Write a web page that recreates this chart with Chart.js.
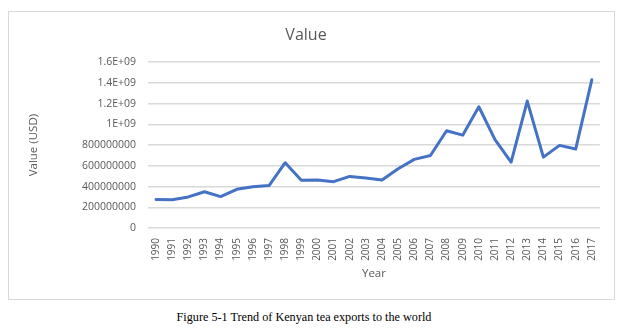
<!DOCTYPE html>
<html>
<head>
<meta charset="utf-8">
<script src="https://cdn.jsdelivr.net/npm/chart.js@4/dist/chart.umd.min.js"></script>
<style>
  html, body { margin: 0; padding: 0; background: #fff; }
  body { width: 623px; height: 332px; position: relative; overflow: hidden; }
  #box { position: absolute; left: 8px; top: 11px; width: 605px; height: 287px; border: 1px solid #d9d9d9; box-sizing: content-box; }
  #wrap { position: absolute; left: 0; top: 0; width: 605px; height: 287px; }
  #caption { position: absolute; left: 0; width: 608px; top: 310px; text-align: center; font-family: "Liberation Serif", "Times New Roman", serif; font-size: 12.2px; color: #000; }
</style>
</head>
<body>
<div id="box"><div id="wrap"><canvas id="c" width="605" height="287"></canvas></div></div>
<div id="caption">Figure 5-1 Trend of Kenyan tea exports to the world</div>
<script>
const years = ['1990','1991','1992','1993','1994','1995','1996','1997','1998','1999','2000','2001','2002','2003','2004','2005','2006','2007','2008','2009','2010','2011','2012','2013','2014','2015','2016','2017'];
const values = [2.75e8, 2.73e8, 3.0e8, 3.5e8, 3.03e8, 3.73e8, 3.99e8, 4.09e8, 6.3e8, 4.6e8, 4.63e8, 4.47e8, 4.98e8, 4.82e8, 4.63e8, 5.72e8, 6.62e8, 7.0e8, 9.39e8, 8.96e8, 1.17e9, 8.52e8, 6.36e8, 1.225e9, 6.84e8, 7.97e8, 7.62e8, 1.43e9];
const yTickValues = [0, 2e8, 4e8, 6e8, 8e8, 1e9, 1.2e9, 1.4e9, 1.6e9];
const yTickLabels = ['0','200000000','400000000','600000000','800000000','1E+09','1.2E+09','1.4E+09','1.6E+09'];

const FONT = '"Open Sans", "Liberation Sans", sans-serif';
const GREY = '#595959';

new Chart(document.getElementById('c'), {
  type: 'line',
  data: {
    labels: years,
    datasets: [{
      label: 'Value',
      data: values,
      borderColor: '#4472C4',
      backgroundColor: '#4472C4',
      borderWidth: 3,
      pointRadius: 0,
      tension: 0,
      borderJoinStyle: 'round',
      borderCapStyle: 'round'
    }]
  },
  options: {
    responsive: false,
    animation: false,
    devicePixelRatio: 1,
    layout: { padding: { left: 0, right: 11, top: 0, bottom: 0 } },
    plugins: {
      legend: { display: false },
      tooltip: { enabled: false },
      title: {
        display: true,
        text: 'Value',
        color: GREY,
        font: { family: FONT, size: 16, weight: 'normal', lineHeight: 1.2 },
        padding: { top: 14, bottom: 17 }
      }
    },
    scales: {
      x: {
        offset: true,
        grid: { display: false, drawTicks: false },
        border: { display: false },
        ticks: {
          color: GREY,
          font: { family: FONT, size: 10 },
          minRotation: 90,
          maxRotation: 90,
          autoSkip: false,
          padding: 10
        },
        title: {
          display: true,
          text: 'Year',
          color: GREY,
          font: { family: FONT, size: 11.5 },
          padding: { top: 0, bottom: 18 }
        },
        afterFit: (s) => { s.height = 287 - 216; }
      },
      y: {
        min: 0,
        max: 1.6e9,
        afterBuildTicks: (s) => { s.ticks = yTickValues.map(v => ({ value: v })); },
        grid: { color: '#d9d9d9', lineWidth: 1.5, drawTicks: false },
        border: { display: false },
        ticks: {
          color: GREY,
          font: { family: FONT, size: 10.5 },
          padding: 12,
          callback: (v) => { const i = yTickValues.indexOf(v); return i >= 0 ? yTickLabels[i] : ''; }
        },
        title: {
          display: true,
          text: 'Value (USD)',
          color: GREY,
          font: { family: FONT, size: 11.5 },
          padding: { top: 18, bottom: 0 }
        },
        afterFit: (s) => { s.width = 139; }
      }
    }
  }
});
</script>
</body>
</html>
